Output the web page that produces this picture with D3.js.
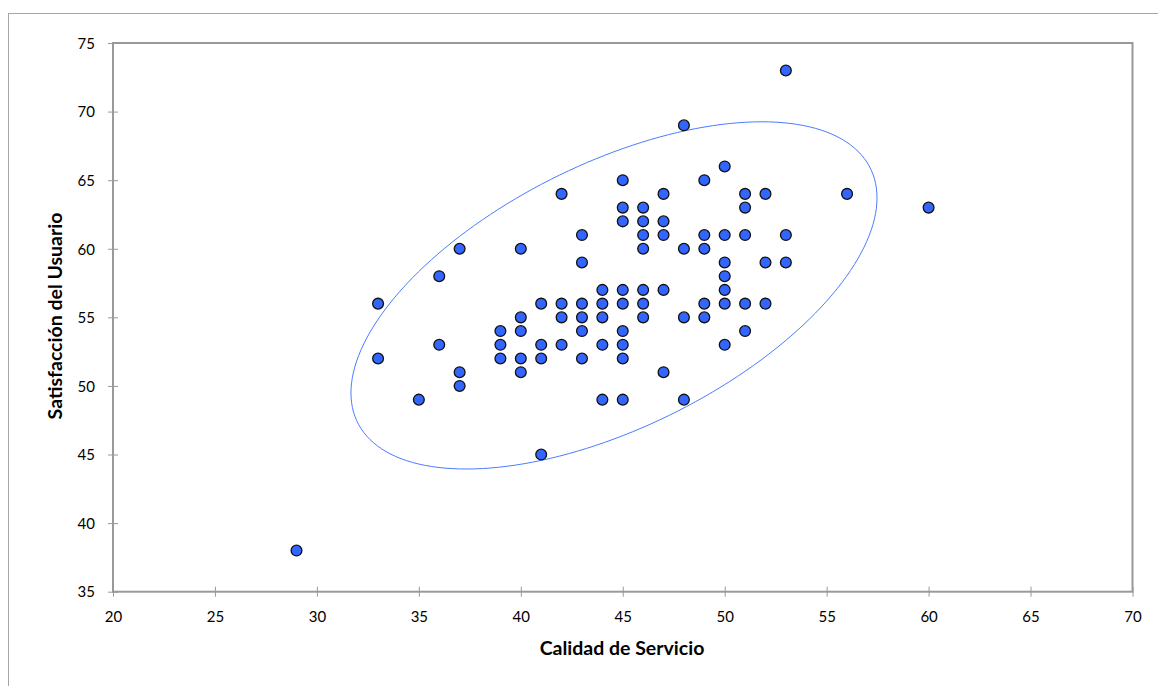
<!DOCTYPE html>
<html>
<head>
<meta charset="utf-8">
<script src="https://cdn.jsdelivr.net/npm/d3@7/dist/d3.min.js"></script>
<style>
  body { margin: 0; background: #fff; }
  svg text { font-family: Lato, "Liberation Sans", sans-serif; fill: #000; }
</style>
</head>
<body>
<svg id="scatter" width="1158" height="686"></svg>
<script>
// datos
var calidad = [29, 33, 33, 35, 36, 36, 37, 37, 37,
    39, 39, 39, 40, 40, 40, 40, 40, 41, 41, 41, 41,
    42, 42, 42, 42, 43, 43, 43, 43, 43, 43,
    44, 44, 44, 44, 44, 45, 45, 45, 45, 45, 45, 45, 45, 45,
    46, 46, 46, 46, 46, 46, 46, 47, 47, 47, 47, 47,
    48, 48, 48, 48, 49, 49, 49, 49, 49,
    50, 50, 50, 50, 50, 50, 50, 51, 51, 51, 51, 51,
    52, 52, 52, 53, 53, 53, 56, 60];
var satisfaccion = [38, 56, 52, 49, 58, 53, 60, 51, 50,
    54, 53, 52, 60, 55, 54, 52, 51, 56, 53, 52, 45,
    64, 56, 55, 53, 61, 59, 56, 55, 54, 52,
    57, 56, 55, 53, 49, 65, 63, 62, 57, 56, 54, 53, 52, 49,
    63, 62, 61, 60, 57, 56, 55, 64, 62, 61, 57, 51,
    69, 60, 55, 49, 65, 61, 60, 56, 55,
    66, 61, 59, 58, 57, 56, 53, 64, 63, 61, 56, 54,
    64, 59, 56, 73, 61, 59, 64, 63];

var xTicks = [20, 25, 30, 35, 40, 45, 50, 55, 60, 65, 70];
var yTicks = [35, 40, 45, 50, 55, 60, 65, 70, 75];

// elipse en unidades de datos: centro x, centro y, ax, ay, by
var elipse = [44.57, 56.6, 12.9, 7.11, 10.47];

var svg = d3.select("svg#scatter"),
    margin = { top: 43, right: 25.5, bottom: 94.3, left: 113 },
    width = 1158 - margin.left - margin.right,
    height = 686 - margin.top - margin.bottom;

var x = d3.scaleLinear().domain([20, 70]).range([0, width]);
var y = d3.scaleLinear().domain([35, 75]).range([height, 0]);

// marco exterior
svg.append("rect")
    .attr("x", 8.5).attr("y", 13.5)
    .attr("width", 1170).attr("height", 700)
    .attr("fill", "none")
    .attr("stroke", "#a6a6a6")
    .attr("stroke-width", 1);

var g = svg.append("g")
    .attr("transform", "translate(" + margin.left + "," + margin.top + ")");

// ejes
var xAxis = g.append("g")
    .attr("transform", "translate(0," + height + ")")
    .call(d3.axisBottom(x).tickValues(xTicks).tickSize(5).tickSizeOuter(0).tickPadding(15));
var yAxis = g.append("g")
    .call(d3.axisLeft(y).tickValues(yTicks).tickSize(5).tickSizeOuter(0).tickPadding(13));

[xAxis, yAxis].forEach(function (ax) {
    ax.select("path.domain").remove();
    ax.selectAll(".tick line").attr("stroke", "#999");
    ax.selectAll(".tick text")
        .style("font-size", "15px")
        .style("font-family", "Lato, 'Liberation Sans', sans-serif")
        .attr("fill", "#000");
});
// las marcas cruzan el eje
xAxis.selectAll(".tick line").attr("y1", -5);
yAxis.selectAll(".tick line").attr("x1", 5);
yAxis.selectAll(".tick text").attr("dy", "0.35em");

// recuadro del area de trazado
g.append("rect")
    .attr("width", width).attr("height", height)
    .attr("fill", "none")
    .attr("stroke", "#999")
    .attr("stroke-width", 2);

// elipse
var ang = d3.range(0, 360, 2).map(function (d) { return d * Math.PI / 180; });
var line = d3.line()
    .x(function (t) { return x(elipse[0] + elipse[2] * Math.cos(t)); })
    .y(function (t) { return y(elipse[1] + elipse[3] * Math.cos(t) + elipse[4] * Math.sin(t)); })
    .curve(d3.curveCardinalClosed);

g.append("path")
    .datum(ang)
    .attr("d", line)
    .attr("fill", "none")
    .attr("stroke", "#4a7cff")
    .attr("stroke-width", 1);

// puntos
g.selectAll(".punto")
    .data(calidad)
    .enter()
    .append("circle")
    .attr("class", "punto")
    .attr("cx", function (d) { return x(d); })
    .attr("cy", function (d, i) { return y(satisfaccion[i]); })
    .attr("r", 5.4)
    .attr("fill", "#3366ff")
    .attr("stroke", "#111")
    .attr("stroke-width", 1.3);

// titulos
svg.append("text")
    .attr("x", 622)
    .attr("y", 655)
    .attr("text-anchor", "middle")
    .style("font-size", "19.5px")
    .style("font-weight", "bold")
    .text("Calidad de Servicio");

svg.append("text")
    .attr("transform", "translate(62,316) rotate(-90)")
    .attr("text-anchor", "middle")
    .style("font-size", "19.5px")
    .style("font-weight", "bold")
    .text("Satisfacción del Usuario");
</script>
</body>
</html>
